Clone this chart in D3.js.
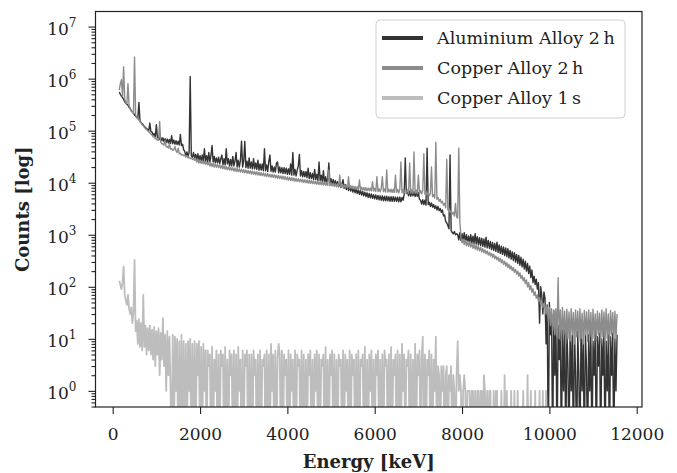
<!DOCTYPE html>
<meta charset="utf-8">
<script src="https://d3js.org/d3.v7.min.js"></script>
<style>
  body { margin: 0; background: #fff; }
  text { font-family: "DejaVu Serif", serif; fill: #222; }
</style>
<svg id="chart" width="677" height="473"></svg>
<script>

// channel grids, keV (one value every 25 keV)
var energyKeV = d3.range(150, 11551, 25);      // both 2 h spectra
var energyShortKeV = d3.range(150, 9951, 25);  // the 1 s spectrum

// Aluminium Alloy 2 h  (one row = 250 keV)
var aluminium2h = [
  5.5e5, 5.0e5, 4.6e5, 4.3e5, 4.0e5, 3.6e5, 3.4e5, 3.2e5, 3.1e5, 2.8e5,
  2.7e5, 2.4e5, 2.3e5, 2.2e5, 2.0e5, 1.9e5, 1.8e5, 1.7e5, 3.5e5, 1.5e5,
  1.45e5, 1.35e5, 1.3e5, 1.2e5, 1.15e5, 1.1e5, 1.05e5, 1.0e5, 1.4e5, 9.5e4,
  9.5e4, 8.2e4, 8.8e4, 7.6e4, 1.3e5, 7.3e4, 7.9e4, 6.8e4, 7.4e4, 6.4e4,
  7.3e4, 6.1e4, 7.0e4, 5.9e4, 6.9e4, 5.8e4, 6.8e4, 5.7e4, 8.0e4, 5.6e4,
  6.6e4, 5.5e4, 6.4e4, 5.4e4, 6.3e4, 5.3e4, 8.5e4, 5.2e4, 5.5e4, 4.3e4,
  4.0e4, 3.3e4, 3.9e4, 3.2e4, 3.8e4, 1.1e6, 3.3e4, 3.1e4, 3.8e4, 3.0e4,
  3.5e4, 2.8e4, 3.6e4, 2.7e4, 3.3e4, 2.6e4, 3.4e4, 2.6e4, 4.5e4, 2.6e4,
  3.3e4, 2.5e4, 3.8e4, 2.5e4, 3.3e4, 5.2e4, 2.5e4, 3.2e4, 2.4e4, 3.0e4,
  2.4e4, 3.1e4, 2.3e4, 2.9e4, 3.4e4, 2.2e4, 2.9e4, 2.2e4, 4.5e4, 2.3e4,
  2.9e4, 2.1e4, 2.8e4, 2.1e4, 3.2e4, 2.1e4, 2.6e4, 3.8e4, 2.0e4, 2.7e4,
  2.0e4, 2.7e4, 6.3e4, 2.0e4, 2.6e4, 6.2e4, 1.95e4, 2.6e4, 1.9e4, 3.0e4,
  1.9e4, 2.5e4, 1.85e4, 2.9e4, 1.85e4, 2.4e4, 1.8e4, 2.7e4, 1.75e4, 2.3e4,
  1.75e4, 2.3e4, 1.7e4, 4.5e4, 1.7e4, 2.2e4, 1.65e4, 2.6e4, 3.4e4, 1.65e4,
  2.1e4, 1.6e4, 2.0e4, 1.6e4, 2.4e4, 2.5e4, 1.55e4, 2.0e4, 1.55e4, 1.95e4,
  1.5e4, 1.95e4, 1.5e4, 1.9e4, 1.45e4, 1.85e4, 1.45e4, 2.3e4, 1.4e4, 3.8e4,
  1.4e4, 1.8e4, 1.35e4, 1.75e4, 2.1e4, 3.5e4, 1.35e4, 1.7e4, 1.3e4, 1.65e4,
  1.3e4, 1.65e4, 1.25e4, 1.9e4, 1.2e4, 1.55e4, 1.2e4, 1.5e4, 1.15e4, 1.8e4,
  1.15e4, 1.45e4, 1.1e4, 2.5e4, 1.1e4, 1.4e4, 1.05e4, 1.7e4, 1.0e4, 1.3e4,
  9.8e3, 1.25e4, 2.4e4, 9.5e3, 1.2e4, 9.2e3, 1.15e4, 9.0e3, 1.1e4, 8.7e3,
  1.05e4, 8.4e3, 1.0e4, 8.1e3, 9.6e3, 1.15e4, 7.8e3, 9.2e3, 7.4e3, 8.8e3,
  7.1e3, 8.5e3, 6.9e3, 8.2e3, 6.6e3, 7.9e3, 6.4e3, 7.6e3, 6.2e3, 7.3e3,
  6.0e3, 7.1e3, 5.8e3, 6.8e3, 5.6e3, 6.6e3, 5.4e3, 6.4e3, 5.2e3, 6.2e3,
  5.1e3, 6.1e3, 5.0e3, 5.9e3, 4.9e3, 5.8e3, 4.8e3, 5.7e3, 4.7e3, 5.6e3,
  4.6e3, 5.6e3, 4.5e3, 5.5e3, 4.5e3, 5.5e3, 4.5e3, 5.4e3, 4.4e3, 5.4e3,
  4.4e3, 5.4e3, 4.4e3, 5.3e3, 4.4e3, 5.3e3, 4.3e3, 5.3e3, 4.3e3, 5.2e3,
  4.6e3, 6.0e3, 3.0e4, 6.2e3, 7.0e3, 5.6e3, 6.9e3, 5.5e3, 6.8e3, 5.6e3,
  6.7e3, 5.4e3, 6.6e3, 5.5e3, 6.4e3, 4.8e3, 4.6e3, 3.9e3, 4.7e3, 3.8e3,
  4.6e3, 3.7e3, 4.6e4, 3.8e3, 4.2e3, 3.5e3, 4.1e3, 3.4e3, 3.8e3, 3.2e3,
  3.6e3, 3.0e3, 3.5e3, 2.9e3, 3.2e3, 2.7e3, 3.0e3, 2.3e3, 2.4e3, 1.8e3,
  1.7e3, 1.5e3, 1.3e3, 3.4e4, 1.2e3, 1.1e3, 1.05e3, 1.15e3, 1.0e3, 1.05e3,
  1.0e3, 800, 1.1e3, 780, 1.05e3, 760, 1.1e3, 740, 1.0e3, 720,
  950, 700, 1.0e3, 690, 940, 680, 1.05e3, 660, 920, 640,
  880, 620, 860, 600, 830, 580, 900, 560, 780, 550,
  740, 520, 710, 500, 680, 480, 720, 460, 640, 440,
  600, 420, 580, 400, 560, 380, 540, 360, 500, 340,
  470, 320, 450, 300, 420, 280, 400, 260, 370, 240,
  340, 220, 310, 200, 280, 180, 250, 150, 210, 120,
  160, 110, 140, 90, 120, 20, 100, 70, 30, 80,
  60, 8, 45, 0, 50, 12, 30, 0, 35, 2,
  25, 0, 18, 4, 22, 0, 15, 1, 20, 0,
  16, 3, 0, 18, 1, 12, 0, 15, 2, 0,
  14, 2, 0, 16, 1, 10, 0, 13, 3, 0,
  12, 1, 15, 0, 9, 2, 14, 0, 11, 3,
  13, 0, 10, 2, 14, 0, 9, 1, 12, 0,
  11, 2, 13, 0, 10, 1, 12
];

// Copper Alloy 2 h
var copper2h = [
  6.0e5, 8.0e5, 9.5e5, 4.6e5, 1.7e6, 4.0e5, 3.5e5, 3.3e5, 8.0e5, 3.0e5,
  2.6e5, 2.4e5, 2.3e5, 2.1e5, 2.6e6, 2.0e5, 1.8e5, 1.7e5, 1.6e5, 1.5e5,
  1.4e5, 1.3e5, 1.25e5, 1.15e5, 1.1e5, 1.05e5, 1.0e5, 9.5e4, 9.0e4, 8.6e4,
  8.2e4, 7.6e4, 7.5e4, 7.0e4, 7.0e4, 6.5e4, 6.5e4, 1.5e5, 6.0e4, 5.6e4,
  5.6e4, 5.2e4, 6.5e4, 4.9e4, 5.0e4, 4.6e4, 5.6e4, 4.4e4, 4.5e4, 4.2e4,
  4.3e4, 5.0e4, 4.1e4, 3.8e4, 4.6e4, 3.6e4, 3.7e4, 3.4e4, 3.5e4, 3.3e4,
  3.4e4, 3.1e4, 3.3e4, 3.0e4, 3.1e4, 2.9e4, 3.0e4, 2.8e4, 2.9e4, 2.7e4,
  2.9e4, 2.5e4, 2.8e4, 2.4e4, 2.7e4, 2.35e4, 2.65e4, 2.3e4, 2.6e4, 2.25e4,
  2.5e4, 2.2e4, 2.45e4, 2.1e4, 2.4e4, 2.05e4, 2.35e4, 2.0e4, 2.3e4, 1.98e4,
  2.25e4, 1.95e4, 2.2e4, 1.9e4, 2.15e4, 1.85e4, 2.1e4, 1.82e4, 2.05e4, 1.78e4,
  2.0e4, 1.75e4, 1.98e4, 1.72e4, 1.95e4, 1.68e4, 1.92e4, 1.65e4, 1.88e4, 1.62e4,
  1.85e4, 1.6e4, 1.82e4, 1.58e4, 1.78e4, 1.55e4, 1.75e4, 1.52e4, 1.72e4, 1.5e4,
  1.7e4, 1.47e4, 1.67e4, 1.45e4, 1.64e4, 1.42e4, 1.62e4, 1.4e4, 1.59e4, 1.38e4,
  1.56e4, 1.36e4, 1.54e4, 1.34e4, 1.51e4, 1.32e4, 1.49e4, 1.3e4, 1.46e4, 1.28e4,
  1.44e4, 1.26e4, 1.42e4, 1.24e4, 1.39e4, 1.22e4, 1.37e4, 1.2e4, 1.35e4, 1.18e4,
  1.33e4, 1.16e4, 1.31e4, 1.14e4, 1.29e4, 1.12e4, 1.27e4, 1.1e4, 1.25e4, 1.09e4,
  1.23e4, 1.07e4, 1.21e4, 1.06e4, 1.19e4, 1.04e4, 1.17e4, 1.03e4, 1.16e4, 1.01e4,
  1.14e4, 1.0e4, 1.13e4, 9.8e3, 1.11e4, 9.7e3, 1.1e4, 9.6e3, 1.08e4, 9.5e3,
  1.07e4, 9.3e3, 1.05e4, 9.2e3, 1.04e4, 9.1e3, 1.03e4, 9.0e3, 1.02e4, 8.9e3,
  1.0e4, 8.8e3, 1.75e4, 8.7e3, 9.9e3, 8.6e3, 9.8e3, 8.5e3, 9.6e3, 8.4e3,
  9.5e3, 8.3e3, 1.4e4, 8.2e3, 9.3e3, 8.1e3, 9.1e3, 8.0e3, 9.0e3, 7.9e3,
  1.3e4, 7.8e3, 8.8e3, 7.7e3, 8.6e3, 7.6e3, 8.5e3, 7.5e3, 8.4e3, 7.4e3,
  1.13e4, 7.3e3, 8.2e3, 7.2e3, 8.1e3, 7.1e3, 8.0e3, 7.0e3, 7.9e3, 7.0e3,
  7.9e3, 6.9e3, 1.05e4, 6.9e3, 7.8e3, 6.8e3, 1.3e4, 6.8e3, 7.7e3, 6.7e3,
  7.7e3, 1.3e4, 6.7e3, 7.6e3, 6.6e3, 1.75e4, 6.6e3, 7.5e3, 6.6e3, 7.5e3,
  6.5e3, 7.5e3, 6.5e3, 1.4e4, 6.5e3, 7.4e3, 6.4e3, 7.4e3, 2.5e4, 6.4e3,
  7.4e3, 6.3e3, 7.4e3, 6.4e3, 7.3e3, 6.3e3, 2.4e4, 6.3e3, 7.3e3, 6.3e3,
  3.9e4, 6.3e3, 7.2e3, 6.2e3, 1.4e4, 6.2e3, 7.1e3, 6.1e3, 7.0e3, 3.6e4,
  6.0e3, 6.8e3, 5.8e3, 6.5e3, 5.6e3, 6.2e3, 2.0e4, 5.4e3, 5.9e3, 5.1e3,
  6.0e4, 4.8e3, 5.2e3, 4.4e3, 4.8e3, 4.1e3, 4.4e3, 3.7e3, 4.0e3, 3.3e3,
  2.8e4, 3.0e3, 3.2e3, 2.7e3, 2.9e3, 2.5e3, 2.7e3, 2.3e3, 4.0e3, 2.2e3,
  2.1e3, 4.6e4, 1.8e3, 900, 700, 820, 650, 780, 620, 740,
  600, 720, 580, 690, 550, 660, 530, 630, 510, 600,
  490, 570, 470, 540, 450, 510, 430, 490, 410, 460,
  390, 440, 370, 420, 350, 390, 330, 370, 310, 350,
  290, 330, 270, 310, 250, 290, 235, 270, 220, 250,
  205, 235, 190, 215, 175, 200, 160, 185, 145, 165,
  130, 150, 115, 135, 100, 120, 88, 105, 78, 92,
  68, 80, 60, 70, 52, 62, 46, 55, 40, 48,
  44, 30, 42, 22, 40, 18, 38, 14, 36, 12,
  38, 11, 150, 10, 36, 9, 40, 12, 34, 8,
  37, 10, 33, 9, 38, 12, 32, 8, 36, 11,
  34, 9, 38, 10, 31, 8, 35, 12, 33, 9,
  36, 11, 32, 8, 37, 10, 30, 9, 34, 12,
  31, 8, 36, 11, 33, 9, 38, 10, 30, 8,
  35, 12, 32, 9, 34, 10, 30
];

// Copper Alloy 1 s
var copper1s = [
  130, 110, 90, 120, 245, 70, 55, 45, 70, 38,
  30, 40, 20, 32, 330, 14, 22, 8, 24, 7,
  20, 6, 70, 7, 18, 5, 16, 6, 18, 5,
  15, 4, 17, 3, 14, 5, 16, 2, 13, 4,
  25, 3, 12, 1, 14, 2, 11, 1, 0, 12,
  0, 11, 1, 10, 0, 9, 0, 12, 0, 9,
  0, 8, 0, 9, 1, 10, 0, 8, 0, 9,
  0, 8, 2, 9, 0, 7, 0, 8, 1, 6,
  0, 6, 3, 5, 0, 7, 0, 4, 1, 6,
  0, 5, 0, 6, 3, 5, 0, 7, 0, 4,
  0, 6, 2, 5, 0, 6, 0, 5, 0, 7,
  1, 4, 0, 6, 0, 5, 3, 6, 0, 5,
  0, 5, 0, 6, 2, 4, 0, 5, 0, 6,
  0, 4, 3, 5, 0, 6, 0, 5, 0, 8,
  1, 5, 0, 6, 0, 4, 8, 5, 0, 6,
  0, 5, 2, 4, 0, 6, 0, 5, 1, 4,
  0, 6, 0, 5, 3, 4, 0, 6, 0, 5,
  0, 4, 0, 5, 2, 6, 0, 4, 0, 5,
  1, 6, 0, 5, 0, 4, 3, 5, 0, 7,
  0, 4, 0, 5, 2, 6, 0, 5, 0, 4,
  0, 5, 3, 4, 0, 6, 0, 5, 1, 4,
  0, 6, 0, 5, 2, 4, 0, 5, 0, 6,
  0, 4, 3, 5, 0, 7, 0, 4, 0, 5,
  1, 6, 0, 4, 0, 5, 2, 6, 0, 4,
  0, 5, 0, 6, 3, 4, 0, 5, 0, 7,
  0, 4, 2, 5, 0, 6, 0, 5, 0, 8,
  1, 5, 0, 4, 3, 6, 0, 5, 0, 4,
  0, 8, 0, 5, 2, 6, 0, 4, 11, 0,
  5, 0, 4, 2, 6, 0, 5, 0, 4, 1,
  11, 0, 3, 2, 0, 3, 1, 3, 0, 2,
  3, 0, 2, 1, 3, 0, 2, 1, 0, 2,
  9, 1, 2, 1, 0, 1, 2, 1, 0, 1,
  1, 1, 0, 1, 1, 0, 1, 0, 1, 1,
  0, 1, 1, 0, 2, 1, 0, 1, 0, 1,
  1, 0, 0, 1, 0, 1, 1, 0, 0, 0,
  1, 0, 0, 2, 0, 1, 0, 0, 0, 1,
  0, 0, 1, 0, 0, 1, 0, 0, 0, 0,
  1, 0, 0, 0, 2, 0, 0, 1, 0, 0,
  0, 1, 0, 0, 0, 1, 0, 0, 1, 0,
  0, 1, 0
];

var seriesNames = ["Aluminium Alloy 2\u2009h", "Copper Alloy 2\u2009h", "Copper Alloy 1\u2009s"];
var seriesColors = ["#333333", "#8c8c8c", "#bdbdbd"];
var seriesWidths = [1.4, 1.4, 1.8];
var xTicks = [0, 2000, 4000, 6000, 8000, 10000, 12000];
var yExponents = [0, 1, 2, 3, 4, 5, 6, 7];

// The svg
var svg = d3.select("#chart"),
  margin = {top: 11.5, right: 35, bottom: 66, left: 95.5},
  width = 677 - margin.left - margin.right,
  height = 473 - margin.top - margin.bottom;

var g = svg.append("g").attr("transform", "translate(" + margin.left + "," + margin.top + ")");

var x = d3.scaleLinear().domain([-394, 12121]).range([0, width]);
var y = d3.scaleLog().domain([0.49, 1.95e7]).range([height, 0]);

g.append("clipPath").attr("id", "clip")
  .append("rect").attr("width", width).attr("height", height);

// zero counts fall below the axis, as on a matplotlib log axis
var line = d3.line()
  .x(function(d) { return x(d[0]); })
  .y(function(d) { return y(d[1] > 0 ? d[1] : 0.05); });

var allSeries = [
  {values: aluminium2h, energy: energyKeV},
  {values: copper2h, energy: energyKeV},
  {values: copper1s, energy: energyShortKeV}
];
var plot = g.append("g").attr("clip-path", "url(#clip)");
allSeries.forEach(function(s, i) {
  var pts = s.values.map(function(v, k) { return [s.energy[k], v]; });
  plot.append("path")
    .datum(pts)
    .attr("d", line)
    .attr("fill", "none")
    .attr("stroke", seriesColors[i])
    .attr("stroke-width", seriesWidths[i])
    .attr("stroke-linejoin", "round");
});

// x axis
var xAxis = g.append("g")
  .attr("transform", "translate(0," + height + ")")
  .call(d3.axisBottom(x).tickValues(xTicks).tickSize(7).tickSizeOuter(0).tickFormat(d3.format("d")));
xAxis.selectAll("text").attr("y", 33).attr("dy", 0).style("font-size", "17px");

// y axis, major and minor ticks
var minors = [];
for (var p = -1; p <= 7; p++) {
  for (var m = 2; m <= 9; m++) {
    var v = m * Math.pow(10, p);
    if (v >= 0.49 && v <= 1.95e7) minors.push(v);
  }
}
g.append("g").call(d3.axisLeft(y).tickValues(minors).tickSize(4).tickSizeOuter(0).tickFormat(""));
g.append("g")
  .call(d3.axisLeft(y).tickValues(yExponents.map(function(e) { return Math.pow(10, e); }))
    .tickSize(7).tickSizeOuter(0).tickFormat(""));

yExponents.forEach(function(e) {
  var t = g.append("text")
    .attr("x", -19)
    .attr("y", y(Math.pow(10, e)) + 8.5)
    .attr("text-anchor", "end")
    .style("font-size", "17px");
  t.append("tspan").text("10");
  t.append("tspan").attr("dy", -8.5).style("font-size", "12px").text(e);
});

g.selectAll(".domain").remove();
g.selectAll(".tick line").attr("stroke", "#222").attr("stroke-width", 1.1);

// frame
g.append("rect")
  .attr("width", width).attr("height", height)
  .attr("fill", "none").attr("stroke", "#222").attr("stroke-width", 1.2);

// axis labels
g.append("text")
  .attr("x", width / 2).attr("y", height + 61)
  .attr("text-anchor", "middle")
  .style("font-size", "18px").style("font-weight", "bold")
  .text("Energy [keV]");

g.append("text")
  .attr("transform", "translate(" + (29 - margin.left) + "," + (height / 2) + ") rotate(-90)")
  .attr("text-anchor", "middle")
  .style("font-size", "18px").style("font-weight", "bold")
  .text("Counts [log]");

// legend
var legend = svg.append("g").attr("transform", "translate(376,20)");
legend.append("rect")
  .attr("width", 249).attr("height", 98).attr("rx", 4)
  .attr("fill", "#fff").attr("fill-opacity", 0.85)
  .attr("stroke", "#d0d0d0").attr("stroke-width", 1);

seriesNames.forEach(function(name, i) {
  var row = legend.append("g").attr("transform", "translate(0," + (18 + i * 30) + ")");
  row.append("line")
    .attr("x1", 6).attr("x2", 47)
    .attr("stroke", seriesColors[i]).attr("stroke-width", 3.8);
  row.append("text")
    .attr("x", 61).attr("y", 6)
    .style("font-size", "17.5px")
    .text(name);
});

</script>
